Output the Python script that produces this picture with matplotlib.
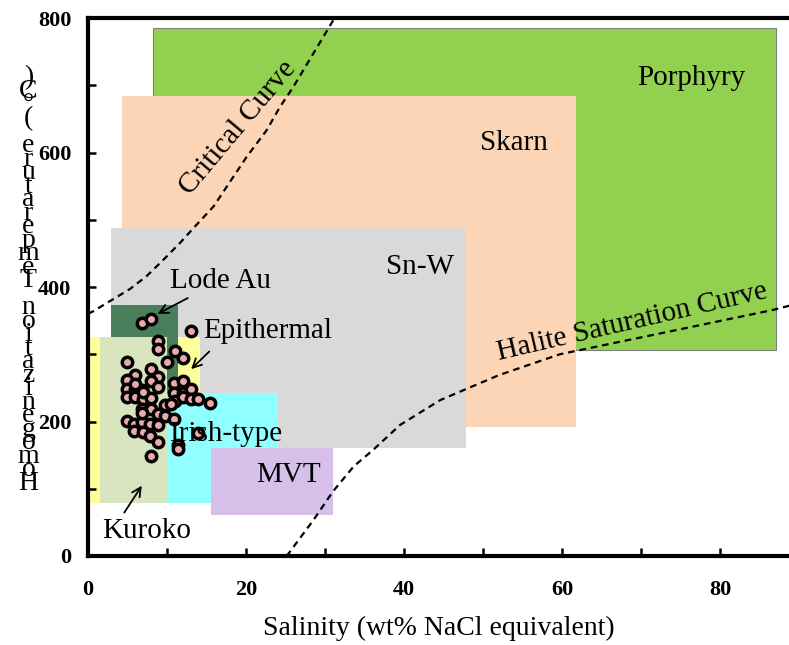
import matplotlib
matplotlib.use("Agg")
import matplotlib.pyplot as plt
from matplotlib.patches import Rectangle

plt.rcParams['font.family'] = ['Liberation Serif', 'DejaVu Serif']

# deposit fields: name, x0, x1, y0, y1, colour (drawn in this order)
fields = ['Porphyry', 'Skarn', 'Sn-W', 'Epithermal', 'Lode Au', 'Kuroko', 'Irish-type', 'MVT']
field_x0 = [8.2, 4.25, 2.9, 0.25, 2.9, 1.5, 10.0, 15.6]
field_x1 = [87.1, 61.8, 47.8, 14.2, 11.35, 10.0, 24.0, 31.0]
field_y0 = [307, 192, 160, 79, 240, 79, 79, 61]
field_y1 = [785, 684, 488, 325, 373, 325, 242, 160]
field_col = ['#92D050', '#FBD5B5', '#D9D9D9', '#FFFF99', '#4A7E5A', '#D7E4BD', '#8FFFFF', '#D6BFE9']

# critical curve and halite saturation curve
crit_x = [0.0, 0.67, 3.2, 5.3, 7.4, 9.5, 11.6, 13.3, 15.9, 18.0, 20.1, 22.6, 24.3, 26.0, 28.5, 31.2]
crit_y = [360, 364, 382, 397, 416, 440, 465, 487, 520, 557, 594, 633, 668, 698, 747, 800]
hal_x = [25.1, 25.4, 28.5, 31.0, 33.6, 36.1, 39.5, 44.6, 52.0, 59.7, 72.4, 86.7, 89.0]
hal_y = [0, 4, 53, 96, 133, 158, 195, 232, 269, 300, 331, 366, 373]

# fluid inclusion data
sal = [6.87, 7.97, 13.04, 8.9, 8.9, 11.0, 12.07, 4.98, 9.95, 7.97,
       5.95, 8.9, 4.9, 7.97, 10.9, 12.07, 4.9, 5.95, 6.87, 8.9,
       10.9, 12.07, 13.04, 4.9, 5.95, 7.0, 7.97, 11.0, 11.98, 13.04,
       13.96, 15.4, 6.87, 7.97, 9.8, 8.9, 9.8, 10.9, 4.9, 5.86,
       6.87, 7.85, 8.9, 5.86, 7.0, 7.85, 8.9, 13.87, 11.4, 11.4,
       7.97, 6.87, 5.95, 10.5, 7.0]
temp = [347, 352, 335, 320, 308, 305, 295, 288, 288, 278,
        269, 266, 262, 260, 258, 260, 249, 249, 247, 251,
        242, 242, 248, 236, 236, 233, 235, 231, 236, 233,
        233, 228, 219, 218, 224, 211, 208, 203, 201, 197,
        200, 196, 195, 186, 184, 179, 169, 183, 165, 159,
        149, 212, 256, 226, 244]

fig = plt.figure(figsize=(7.89, 6.45), dpi=100)
ax = fig.add_axes([0.1115, 0.138, 0.8885, 0.834])

for i in range(len(fields)):
    ec = '#7F7F7F' if fields[i] == 'Porphyry' else 'none'
    ax.add_patch(Rectangle((field_x0[i], field_y0[i]), field_x1[i] - field_x0[i],
                           field_y1[i] - field_y0[i], facecolor=field_col[i],
                           edgecolor=ec, linewidth=0.8, zorder=1))

ax.plot(crit_x, crit_y, 'k--', lw=1.6, dashes=(3, 2.2), zorder=3)
ax.plot(hal_x, hal_y, 'k--', lw=1.6, dashes=(3, 2.2), zorder=3)

ax.plot(sal, temp, 'o', ms=7.5, mfc='#EBAAAA', mec='black', mew=2.5, zorder=4)

fs = 21
ax.text(76.3, 711, 'Porphyry', fontsize=fs, ha='center', va='center', zorder=5)
ax.text(53.9, 614, 'Skarn', fontsize=fs, ha='center', va='center', zorder=5)
ax.text(42.0, 430, 'Sn-W', fontsize=fs, ha='center', va='center', zorder=5)
ax.text(25.4, 120, 'MVT', fontsize=fs, ha='center', va='center', zorder=5)
ax.text(10.4, 182, 'Irish-type', fontsize=fs, ha='left', va='center', zorder=5)
ax.text(14.6, 335, 'Epithermal', fontsize=fs, ha='left', va='center', zorder=5)
ax.text(1.86, 37, 'Kuroko', fontsize=fs, ha='left', va='center', zorder=5)
ax.text(19.0, 636, 'Critical Curve', fontsize=fs, ha='center', va='center',
        rotation=50, rotation_mode='anchor', zorder=5)
ax.text(68.9, 348, 'Halite Saturation Curve', fontsize=fs, ha='center', va='center',
        rotation=13, rotation_mode='anchor', zorder=5)

arrow = dict(arrowstyle='->', color='black', lw=1.3, mutation_scale=16)
ax.annotate('Lode Au', xy=(8.5, 358), xytext=(10.4, 409), fontsize=fs,
            va='center', ha='left', zorder=5,
            arrowprops=dict(arrow, relpos=(0.25, 0.0)))
ax.annotate('', xy=(12.8, 275), xytext=(15.6, 307), arrowprops=arrow, zorder=5)
ax.annotate('', xy=(7.0, 108), xytext=(4.4, 61), arrowprops=arrow, zorder=5)

ax.set_xlim(0, 88.7)
ax.set_ylim(0, 800)
ax.set_xticks(range(0, 90, 10))
ax.set_xticklabels(['0', '', '20', '', '40', '', '60', '', '80'])
ax.set_yticks(range(0, 801, 100))
ax.set_yticklabels(['0', '', '200', '', '400', '', '600', '', '800'])
ax.tick_params(direction='in', length=6, width=1.8, labelsize=16)
ax.tick_params(axis='x', pad=17)
ax.tick_params(axis='y', pad=12)
for lab in ax.get_xticklabels() + ax.get_yticklabels():
    lab.set_fontweight('bold')
for s in ['left', 'bottom', 'top']:
    ax.spines[s].set_linewidth(3)
ax.spines['right'].set_visible(False)

ax.set_xlabel('Salinity (wt% NaCl equivalent)', fontsize=20, labelpad=12)

ylab = 'Homogenization Temperature (°C)'
fig.text(0.036, 0.565, '\n'.join(reversed(ylab)), fontsize=20, ha='center',
         va='center', linespacing=0.395)

fig.savefig('out.png', dpi=100)
